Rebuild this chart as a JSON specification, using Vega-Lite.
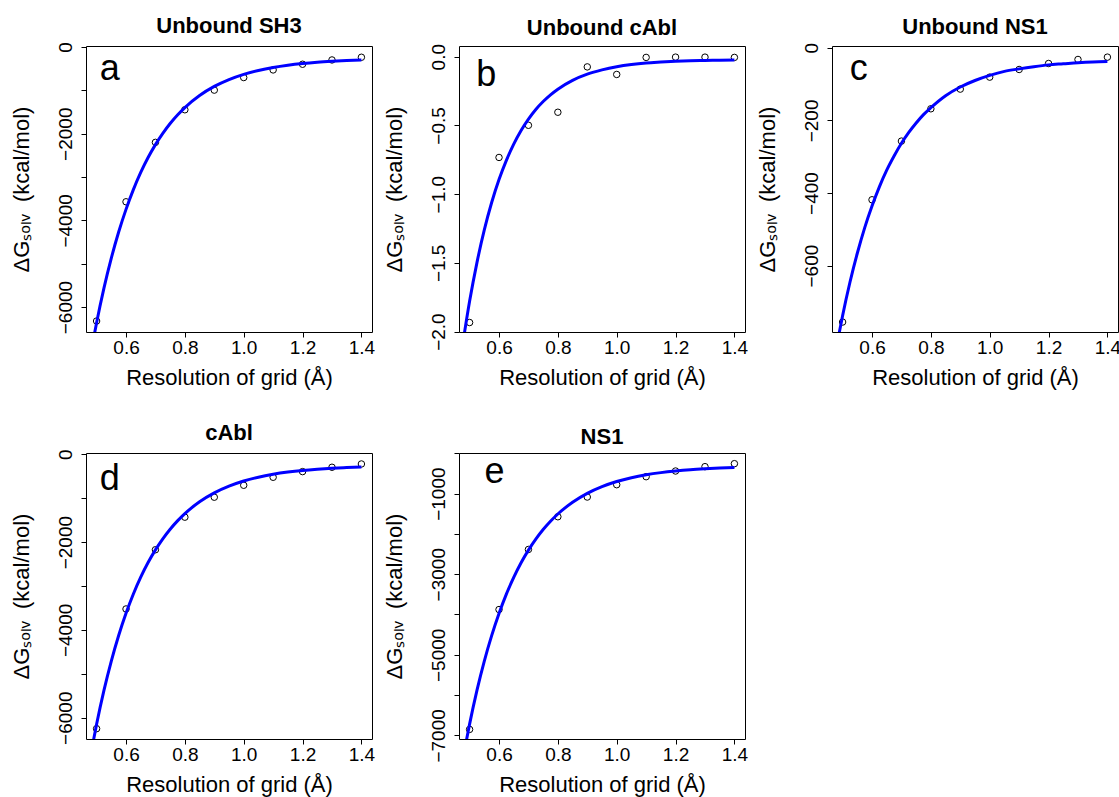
{
  "$schema": "https://vega.github.io/schema/vega-lite/v6.json",
  "background": "white",
  "padding": {"left": 9, "top": 14, "right": 3, "bottom": 2},
  "columns": 3,
  "spacing": {"row": 121, "column": 87},
  "bounds": "flush",
  "config": {
    "font": "Liberation Sans",
    "view": {"stroke": "black", "strokeWidth": 1},
    "axis": {"domain": false, "grid": false, "ticks": true, "tickSize": 5, "tickColor": "black", "tickWidth": 1, "labelFont": "Liberation Sans", "labelFontSize": 19, "labelColor": "black", "titleFont": "Liberation Sans", "titleFontSize": 22, "titleFontWeight": "normal", "titleColor": "black", "labelOverlap": false, "labelFlush": false, "labelBound": false},
    "axisX": {"labelPadding": 1, "titlePadding": 10, "labelAngle": 0},
    "axisY": {"labelAngle": -90, "labelAlign": "center", "labelBaseline": "alphabetic", "labelPadding": 10, "titlePadding": 23},
    "title": {"font": "Liberation Sans", "fontSize": 22, "fontWeight": "bold", "color": "black", "anchor": "middle", "frame": "group", "baseline": "alphabetic", "offset": 4}
  },
  "concat": [
    {
      "width": 286, "height": 286,
      "title": "Unbound SH3",
      "layer": [
        {
          "data": {"values": [{"x":0.5,"y":-6322},{"x":0.6,"y":-3571},{"x":0.7,"y":-2200},{"x":0.8,"y":-1448},{"x":0.9,"y":-995},{"x":1.0,"y":-705},{"x":1.1,"y":-529},{"x":1.2,"y":-398},{"x":1.3,"y":-299},{"x":1.4,"y":-237}]},
          "mark": {"type": "point", "shape": "circle", "filled": false, "color": "black", "size": 42, "strokeWidth": 1, "opacity": 1},
          "encoding": {
            "x": {"field": "x", "type": "quantitative", "scale": {"domain": [0.464, 1.436], "nice": false, "zero": false}, "axis": {"values": [0.6, 0.8, 1.0, 1.2, 1.4], "format": ".1f", "title": "Resolution of grid (Å)"}},
            "y": {"field": "y", "type": "quantitative", "scale": {"domain": [-6575, 23], "nice": false, "zero": false}, "axis": {"values": [0, -1000, -2000, -3000, -4000, -5000, -6000], "format": "d", "labelExpr": "datum.value % 2000 == 0 ? datum.label : ''", "title": "ΔGₛₒₗᵥ\u00a0\u00a0(kcal/mol)"}}
          }
        },
        {
          "data": {"values": [{"x":0.485,"y":-6894},{"x":0.5,"y":-6360},{"x":0.525,"y":-5563},{"x":0.55,"y":-4871},{"x":0.575,"y":-4269},{"x":0.6,"y":-3746},{"x":0.625,"y":-3290},{"x":0.65,"y":-2895},{"x":0.675,"y":-2551},{"x":0.7,"y":-2252},{"x":0.725,"y":-1992},{"x":0.75,"y":-1765},{"x":0.775,"y":-1569},{"x":0.8,"y":-1398},{"x":0.85,"y":-1120},{"x":0.9,"y":-910},{"x":0.95,"y":-752},{"x":1.0,"y":-631},{"x":1.05,"y":-541},{"x":1.1,"y":-472},{"x":1.15,"y":-420},{"x":1.2,"y":-381},{"x":1.25,"y":-352},{"x":1.3,"y":-330},{"x":1.35,"y":-312},{"x":1.4,"y":-300}]},
          "mark": {"type": "line", "color": "#0000FF", "strokeWidth": 3, "clip": true, "interpolate": "monotone"},
          "encoding": {
            "x": {"field": "x", "type": "quantitative"},
            "y": {"field": "y", "type": "quantitative"}
          }
        },
        {
          "data": {"values": [{"label": "a"}]},
          "mark": {"type": "text", "fontSize": 36, "align": "center", "baseline": "alphabetic", "color": "black"},
          "encoding": {"x": {"datum": 0.545}, "y": {"datum": -760}, "text": {"field": "label"}}
        }
      ]
    },
    {
      "width": 286, "height": 286,
      "title": "Unbound cAbl",
      "layer": [
        {
          "data": {"values": [{"x":0.5,"y":-1.934},{"x":0.6,"y":-0.733},{"x":0.7,"y":-0.499},{"x":0.8,"y":-0.404},{"x":0.9,"y":-0.074},{"x":1.0,"y":-0.129},{"x":1.1,"y":-0.005},{"x":1.2,"y":-0.003},{"x":1.3,"y":-0.003},{"x":1.4,"y":-0.005}]},
          "mark": {"type": "point", "shape": "circle", "filled": false, "color": "black", "size": 42, "strokeWidth": 1, "opacity": 1},
          "encoding": {
            "x": {"field": "x", "type": "quantitative", "scale": {"domain": [0.464, 1.436], "nice": false, "zero": false}, "axis": {"values": [0.6, 0.8, 1.0, 1.2, 1.4], "format": ".1f", "title": "Resolution of grid (Å)"}},
            "y": {"field": "y", "type": "quantitative", "scale": {"domain": [-2.003, 0.078], "nice": false, "zero": false}, "axis": {"values": [0, -0.5, -1.0, -1.5, -2.0], "format": ".1f", "title": "ΔGₛₒₗᵥ\u00a0\u00a0(kcal/mol)"}}
          }
        },
        {
          "data": {"values": [{"x":0.48,"y":-2.044},{"x":0.5,"y":-1.78},{"x":0.525,"y":-1.498},{"x":0.55,"y":-1.26},{"x":0.575,"y":-1.061},{"x":0.6,"y":-0.894},{"x":0.625,"y":-0.754},{"x":0.65,"y":-0.636},{"x":0.675,"y":-0.537},{"x":0.7,"y":-0.454},{"x":0.725,"y":-0.384},{"x":0.75,"y":-0.326},{"x":0.775,"y":-0.277},{"x":0.8,"y":-0.236},{"x":0.85,"y":-0.172},{"x":0.9,"y":-0.127},{"x":0.95,"y":-0.096},{"x":1.0,"y":-0.073},{"x":1.05,"y":-0.057},{"x":1.1,"y":-0.046},{"x":1.15,"y":-0.039},{"x":1.2,"y":-0.033},{"x":1.25,"y":-0.029},{"x":1.3,"y":-0.027},{"x":1.35,"y":-0.025},{"x":1.4,"y":-0.023}]},
          "mark": {"type": "line", "color": "#0000FF", "strokeWidth": 3, "clip": true, "interpolate": "monotone"},
          "encoding": {
            "x": {"field": "x", "type": "quantitative"},
            "y": {"field": "y", "type": "quantitative"}
          }
        },
        {
          "data": {"values": [{"label": "b"}]},
          "mark": {"type": "text", "fontSize": 36, "align": "center", "baseline": "alphabetic", "color": "black"},
          "encoding": {"x": {"datum": 0.557}, "y": {"datum": -0.216}, "text": {"field": "label"}}
        }
      ]
    },
    {
      "width": 286, "height": 286,
      "title": "Unbound NS1",
      "layer": [
        {
          "data": {"values": [{"x":0.5,"y":-755.6},{"x":0.6,"y":-418.7},{"x":0.7,"y":-257},{"x":0.8,"y":-168},{"x":0.9,"y":-113.8},{"x":1.0,"y":-80.8},{"x":1.1,"y":-59.7},{"x":1.2,"y":-43.2},{"x":1.3,"y":-32.1},{"x":1.4,"y":-25.7}]},
          "mark": {"type": "point", "shape": "circle", "filled": false, "color": "black", "size": 42, "strokeWidth": 1, "opacity": 1},
          "encoding": {
            "x": {"field": "x", "type": "quantitative", "scale": {"domain": [0.464, 1.436], "nice": false, "zero": false}, "axis": {"values": [0.6, 0.8, 1.0, 1.2, 1.4], "format": ".1f", "title": "Resolution of grid (Å)"}},
            "y": {"field": "y", "type": "quantitative", "scale": {"domain": [-783, 5], "nice": false, "zero": false}, "axis": {"values": [0, -200, -400, -600], "format": "d", "title": "ΔGₛₒₗᵥ\u00a0\u00a0(kcal/mol)"}}
          }
        },
        {
          "data": {"values": [{"x":0.485,"y":-800},{"x":0.5,"y":-738},{"x":0.525,"y":-646},{"x":0.55,"y":-566},{"x":0.575,"y":-496},{"x":0.6,"y":-436},{"x":0.625,"y":-383},{"x":0.65,"y":-337},{"x":0.675,"y":-298},{"x":0.7,"y":-263},{"x":0.725,"y":-233},{"x":0.75,"y":-207},{"x":0.775,"y":-184},{"x":0.8,"y":-165},{"x":0.85,"y":-132},{"x":0.9,"y":-108},{"x":0.95,"y":-90},{"x":1.0,"y":-76},{"x":1.05,"y":-65},{"x":1.1,"y":-58},{"x":1.15,"y":-52},{"x":1.2,"y":-47},{"x":1.25,"y":-44},{"x":1.3,"y":-41},{"x":1.35,"y":-39},{"x":1.4,"y":-38}]},
          "mark": {"type": "line", "color": "#0000FF", "strokeWidth": 3, "clip": true, "interpolate": "monotone"},
          "encoding": {
            "x": {"field": "x", "type": "quantitative"},
            "y": {"field": "y", "type": "quantitative"}
          }
        },
        {
          "data": {"values": [{"label": "c"}]},
          "mark": {"type": "text", "fontSize": 36, "align": "center", "baseline": "alphabetic", "color": "black"},
          "encoding": {"x": {"datum": 0.555}, "y": {"datum": -88}, "text": {"field": "label"}}
        }
      ]
    },
    {
      "width": 286, "height": 286,
      "title": "cAbl",
      "layer": [
        {
          "data": {"values": [{"x":0.5,"y":-6250},{"x":0.6,"y":-3523},{"x":0.7,"y":-2174},{"x":0.8,"y":-1432},{"x":0.9,"y":-977},{"x":1.0,"y":-705},{"x":1.1,"y":-523},{"x":1.2,"y":-394},{"x":1.3,"y":-295},{"x":1.4,"y":-220}]},
          "mark": {"type": "point", "shape": "circle", "filled": false, "color": "black", "size": 42, "strokeWidth": 1, "opacity": 1},
          "encoding": {
            "x": {"field": "x", "type": "quantitative", "scale": {"domain": [0.464, 1.436], "nice": false, "zero": false}, "axis": {"values": [0.6, 0.8, 1.0, 1.2, 1.4], "format": ".1f", "title": "Resolution of grid (Å)"}},
            "y": {"field": "y", "type": "quantitative", "scale": {"domain": [-6485, 30], "nice": false, "zero": false}, "axis": {"values": [0, -1000, -2000, -3000, -4000, -5000, -6000], "format": "d", "labelExpr": "datum.value % 2000 == 0 ? datum.label : ''", "title": "ΔGₛₒₗᵥ\u00a0\u00a0(kcal/mol)"}}
          }
        },
        {
          "data": {"values": [{"x":0.485,"y":-6666},{"x":0.5,"y":-6150},{"x":0.525,"y":-5379},{"x":0.55,"y":-4710},{"x":0.575,"y":-4127},{"x":0.6,"y":-3621},{"x":0.625,"y":-3181},{"x":0.65,"y":-2798},{"x":0.675,"y":-2465},{"x":0.7,"y":-2176},{"x":0.725,"y":-1925},{"x":0.75,"y":-1706},{"x":0.775,"y":-1516},{"x":0.8,"y":-1351},{"x":0.85,"y":-1082},{"x":0.9,"y":-879},{"x":0.95,"y":-726},{"x":1.0,"y":-609},{"x":1.05,"y":-521},{"x":1.1,"y":-455},{"x":1.15,"y":-405},{"x":1.2,"y":-367},{"x":1.25,"y":-339},{"x":1.3,"y":-317},{"x":1.35,"y":-301},{"x":1.4,"y":-288}]},
          "mark": {"type": "line", "color": "#0000FF", "strokeWidth": 3, "clip": true, "interpolate": "monotone"},
          "encoding": {
            "x": {"field": "x", "type": "quantitative"},
            "y": {"field": "y", "type": "quantitative"}
          }
        },
        {
          "data": {"values": [{"label": "d"}]},
          "mark": {"type": "text", "fontSize": 36, "align": "center", "baseline": "alphabetic", "color": "black"},
          "encoding": {"x": {"datum": 0.545}, "y": {"datum": -811}, "text": {"field": "label"}}
        }
      ]
    },
    {
      "width": 286, "height": 286,
      "title": "NS1",
      "layer": [
        {
          "data": {"values": [{"x":0.5,"y":-6852},{"x":0.6,"y":-3877},{"x":0.7,"y":-2386},{"x":0.8,"y":-1574},{"x":0.9,"y":-1085},{"x":1.0,"y":-779},{"x":1.1,"y":-580},{"x":1.2,"y":-439},{"x":1.3,"y":-331},{"x":1.4,"y":-257}]},
          "mark": {"type": "point", "shape": "circle", "filled": false, "color": "black", "size": 42, "strokeWidth": 1, "opacity": 1},
          "encoding": {
            "x": {"field": "x", "type": "quantitative", "scale": {"domain": [0.464, 1.436], "nice": false, "zero": false}, "axis": {"values": [0.6, 0.8, 1.0, 1.2, 1.4], "format": ".1f", "title": "Resolution of grid (Å)"}},
            "y": {"field": "y", "type": "quantitative", "scale": {"domain": [-7090, 8], "nice": false, "zero": false}, "axis": {"values": [0, -1000, -2000, -3000, -4000, -5000, -6000, -7000], "format": "d", "labelExpr": "datum.value % 2000 == 0 ? '' : datum.label", "title": "ΔGₛₒₗᵥ\u00a0\u00a0(kcal/mol)"}}
          }
        },
        {
          "data": {"values": [{"x":0.485,"y":-7281},{"x":0.5,"y":-6720},{"x":0.525,"y":-5883},{"x":0.55,"y":-5155},{"x":0.575,"y":-4523},{"x":0.6,"y":-3973},{"x":0.625,"y":-3494},{"x":0.65,"y":-3079},{"x":0.675,"y":-2717},{"x":0.7,"y":-2403},{"x":0.725,"y":-2130},{"x":0.75,"y":-1892},{"x":0.775,"y":-1686},{"x":0.8,"y":-1506},{"x":0.85,"y":-1214},{"x":0.9,"y":-993},{"x":0.95,"y":-827},{"x":1.0,"y":-700},{"x":1.05,"y":-605},{"x":1.1,"y":-533},{"x":1.15,"y":-479},{"x":1.2,"y":-438},{"x":1.25,"y":-406},{"x":1.3,"y":-383},{"x":1.35,"y":-365},{"x":1.4,"y":-352}]},
          "mark": {"type": "line", "color": "#0000FF", "strokeWidth": 3, "clip": true, "interpolate": "monotone"},
          "encoding": {
            "x": {"field": "x", "type": "quantitative"},
            "y": {"field": "y", "type": "quantitative"}
          }
        },
        {
          "data": {"values": [{"label": "e"}]},
          "mark": {"type": "text", "fontSize": 36, "align": "center", "baseline": "alphabetic", "color": "black"},
          "encoding": {"x": {"datum": 0.585}, "y": {"datum": -746}, "text": {"field": "label"}}
        }
      ]
    }
  ]
}
